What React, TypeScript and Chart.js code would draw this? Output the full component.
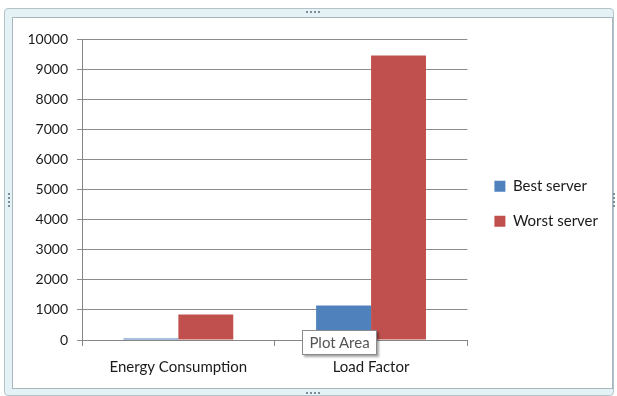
import React, { useEffect, useRef } from "react";
import { Chart, registerables } from "chart.js";

Chart.register(...registerables);

const categories = ["Energy Consumption", "Load Factor"];
const bestServer = [50, 1150];
const worstServer = [850, 9450];
const seriesNames = ["Best server", "Worst server"];
const yTicksMax = 10000;
const yStep = 1000;

const FONT = "Lato, 'Open Sans', sans-serif";

function Dots({ x, y, vertical }: { x: number; y: number; vertical?: boolean }) {
  const items = [0, 1, 2, 3];
  return (
    <>
      {items.map((i) => (
        <div
          key={i}
          style={{
            position: "absolute",
            left: vertical ? x : x + i * 4,
            top: vertical ? y + i * 4 : y,
            width: 2,
            height: 2,
            background: "#7d8d96",
          }}
        />
      ))}
    </>
  );
}

export default function App() {
  const ref = useRef<HTMLCanvasElement | null>(null);

  useEffect(() => {
    document.body.style.margin = "0";
    let chart: Chart | null = null;
    let cancelled = false;
    const build = () => {
      const canvas = ref.current;
      if (!canvas || cancelled) return;
      chart = new Chart(canvas, {
        type: "bar",
        data: {
          labels: categories,
          datasets: [
            {
              label: seriesNames[0],
              data: bestServer,
              backgroundColor: "#4f81bd",
              borderWidth: 0,
            },
            {
              label: seriesNames[1],
              data: worstServer,
              backgroundColor: "#c0504d",
              borderWidth: 0,
            },
          ],
        },
        options: {
          responsive: false,
          animation: false,
          events: [],
          layout: { padding: { left: 14, top: 39, right: 9, bottom: 0 } },
          datasets: {
            bar: { categoryPercentage: 0.57, barPercentage: 1.0 },
          },
          scales: {
            x: {
              grid: {
                display: true,
                drawOnChartArea: false,
                drawTicks: true,
                tickLength: 6,
                color: "#868686",
                offset: true,
              },
              border: { display: true, color: "#868686" },
              ticks: {
                padding: 12,
                color: "#1a1a1a",
                font: { family: FONT, size: 15 },
                maxRotation: 0,
              },
              afterFit: (s: any) => {
                s.height = 56;
              },
            },
            y: {
              min: 0,
              max: yTicksMax,
              ticks: {
                stepSize: yStep,
                padding: 9,
                color: "#1a1a1a",
                font: { family: FONT, size: 14 },
                callback: (v: any) => String(v),
              },
              grid: {
                color: "#8c8c8c",
                tickLength: 5,
                drawTicks: true,
              },
              border: { display: true, color: "#868686" },
              afterFit: (s: any) => {
                s.width = 68;
              },
            },
            gap: {
              type: "linear",
              position: "right",
              display: true,
              grid: { display: false, drawTicks: false },
              border: { display: false },
              ticks: { display: false },
              afterFit: (s: any) => {
                s.width = 7;
              },
            },
          },
          plugins: {
            tooltip: { enabled: false },
            legend: {
              position: "right",
              align: "start",
              maxWidth: 220,
              title: {
                display: true,
                text: "",
                font: { family: FONT, size: 14 },
                padding: { top: 0, bottom: 103 },
              },
              labels: {
                boxWidth: 11,
                boxHeight: 11,
                padding: 20,
                color: "#1a1a1a",
                font: { family: FONT, size: 15 },
              },
            },
          },
        },
      } as any);
    };
    const fonts: any = (document as any).fonts;
    if (fonts && fonts.load) {
      Promise.all([fonts.load("14px Lato"), fonts.load("15px Lato")])
        .catch(() => null)
        .then(() => build());
    } else {
      build();
    }
    return () => {
      cancelled = true;
      if (chart) chart.destroy();
    };
  }, []);

  return (
    <div
      style={{
        position: "fixed",
        left: 0,
        top: 0,
        width: 617,
        height: 396,
        background: "#ffffff",
        overflow: "hidden",
      }}
    >
      <div
        style={{
          position: "absolute",
          left: 4,
          top: 8,
          width: 610,
          height: 388,
          border: "1px solid #b4c2ca",
          borderRadius: 4,
          background: "#e4f2f6",
          boxSizing: "border-box",
        }}
      />
      <div
        style={{
          position: "absolute",
          left: 12,
          top: 17,
          width: 601,
          height: 372,
          border: "1px solid #a9b6be",
          background: "#ffffff",
          boxSizing: "border-box",
        }}
      />
      <Dots x={306} y={11} />
      <Dots x={306} y={392} />
      <Dots x={8} y={193} vertical />
      <Dots x={613} y={193} vertical />
      <canvas
        ref={ref}
        width={617}
        height={396}
        style={{ position: "absolute", left: 0, top: 0, width: 617, height: 396 }}
      />
      <div
        style={{
          position: "absolute",
          left: 302,
          top: 330,
          width: 75,
          height: 25,
          background: "#ffffff",
          border: "1px solid #8a8a8a",
          boxShadow: "2px 2px 2px rgba(0,0,0,0.35)",
          boxSizing: "border-box",
          fontFamily: FONT,
          fontSize: 15,
          color: "#555",
          lineHeight: "23px",
          textAlign: "center",
        }}
      >
        Plot Area
      </div>
    </div>
  );
}
